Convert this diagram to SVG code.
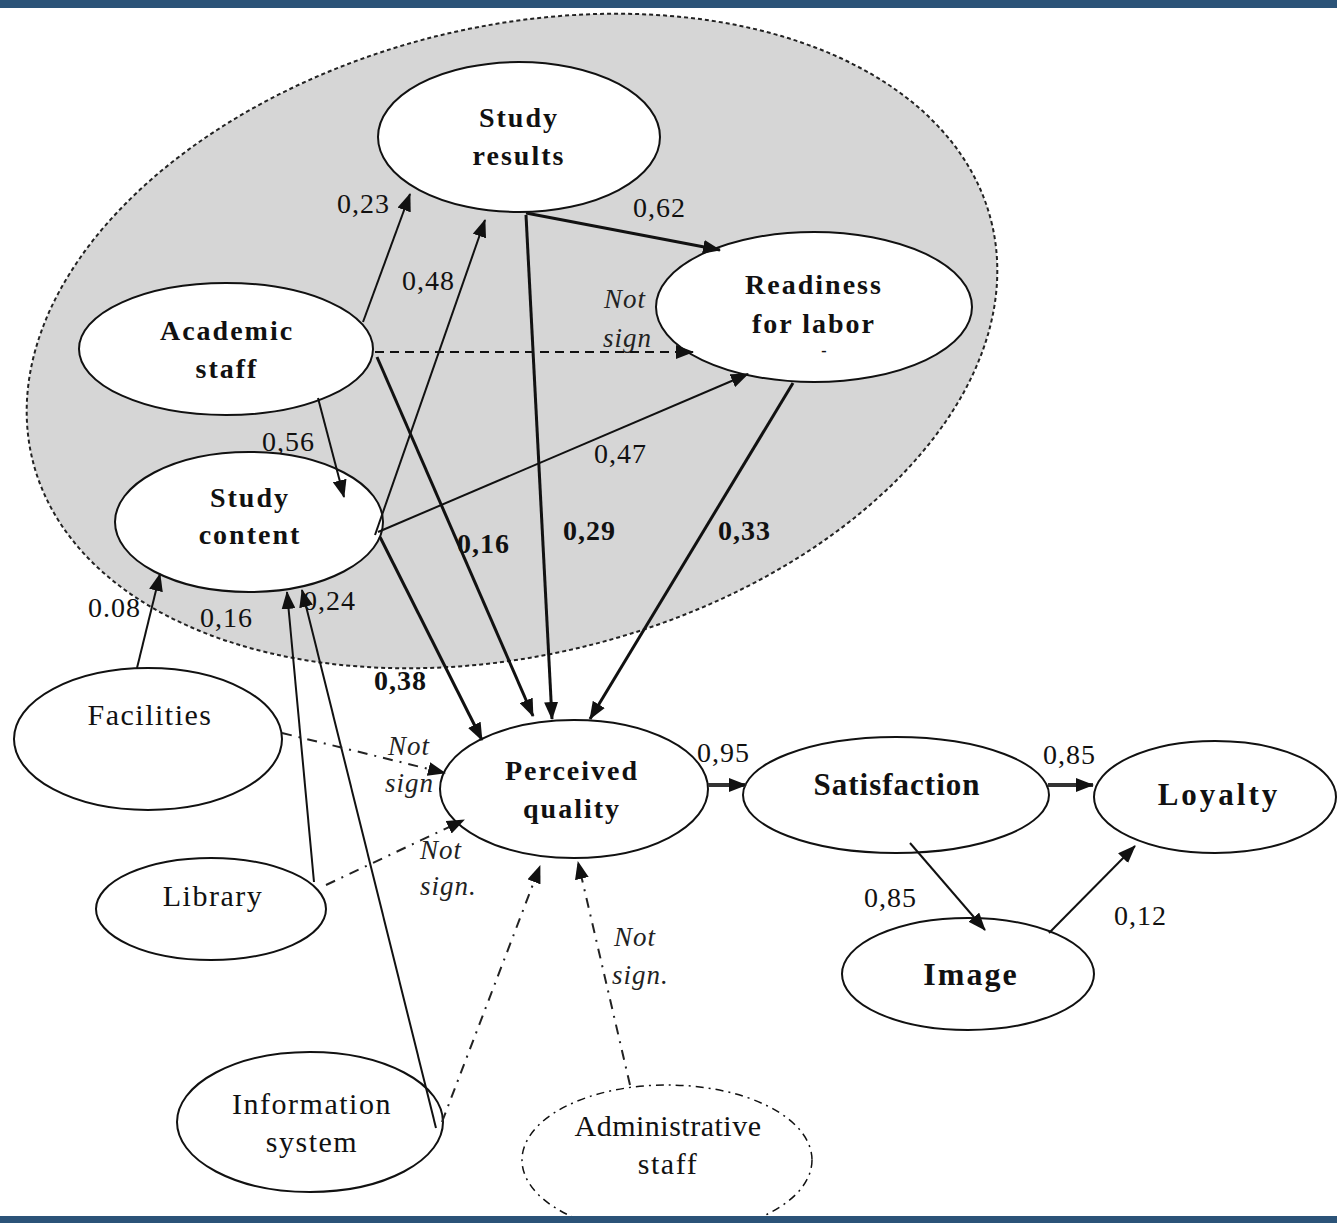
<svg xmlns="http://www.w3.org/2000/svg" width="1337" height="1223" viewBox="0 0 1337 1223">
<style>
.node{fill:#fff;stroke:#111;stroke-width:2}
.b{font-family:"Liberation Serif","Times New Roman",serif;font-weight:bold;font-size:28px;letter-spacing:2px;fill:#111;text-anchor:middle}
.r{font-family:"Liberation Serif","Times New Roman",serif;font-size:30px;letter-spacing:1.5px;fill:#111;text-anchor:middle}
.n{font-family:"Liberation Serif","Times New Roman",serif;font-size:28px;letter-spacing:1px;fill:#111}
.nb{font-family:"Liberation Serif","Times New Roman",serif;font-size:28px;font-weight:bold;letter-spacing:1px;fill:#111}
.ns{font-family:"Liberation Serif","Times New Roman",serif;font-size:27px;font-style:italic;letter-spacing:1px;fill:#222}
.e{stroke:#111;stroke-width:2;fill:none;marker-end:url(#ah)}
.t{stroke:#111;stroke-width:3;fill:none;marker-end:url(#ah)}
.d{stroke:#111;stroke-width:2;fill:none;stroke-dasharray:9 6;marker-end:url(#ah)}
.dd{stroke:#222;stroke-width:2;fill:none;stroke-dasharray:10 7 2 7;marker-end:url(#ah)}
</style>
<defs>
<marker id="ah" markerUnits="userSpaceOnUse" markerWidth="18" markerHeight="14" refX="17" refY="7" orient="auto">
<path d="M0,0 L18,7 L0,14 z" fill="#111"/>
</marker>
</defs>
<rect x="0" y="0" width="1337" height="1223" fill="#fff"/>
<ellipse cx="512" cy="341" rx="494" ry="314" transform="rotate(-14 512 341)" fill="#d6d6d6" stroke="#222" stroke-width="2" stroke-dasharray="4 3"/>

<g id="edge-labels">
<text class="n" x="337" y="213">0,23</text>
<text class="n" x="402" y="290">0,48</text>
<text class="n" x="633" y="217">0,62</text>
<text class="n" x="262" y="451">0,56</text>
<text class="n" x="594" y="463">0,47</text>
<text class="nb" x="457" y="553">0,16</text>
<text class="nb" x="563" y="540">0,29</text>
<text class="nb" x="718" y="540">0,33</text>
<text class="nb" x="374" y="690">0,38</text>
<text class="n" x="88" y="617">0.08</text>
<text class="n" x="200" y="627">0,16</text>
<text class="n" x="303" y="610">0,24</text>
<text class="n" x="697" y="762">0,95</text>
<text class="n" x="1043" y="764">0,85</text>
<text class="n" x="864" y="907">0,85</text>
<text class="n" x="1114" y="925">0,12</text>
<text class="ns" x="604" y="308">Not</text>
<text class="ns" x="603" y="347">sign</text>
<text class="ns" x="388" y="755">Not</text>
<text class="ns" x="385" y="792">sign</text>
<text class="ns" x="420" y="859">Not</text>
<text class="ns" x="420" y="895">sign.</text>
<text class="ns" x="614" y="946">Not</text>
<text class="ns" x="612" y="984">sign.</text>
</g>

<g id="node-study-results">
<ellipse class="node" cx="519" cy="137" rx="141" ry="75"/>
<text class="b" x="519" y="127">Study</text>
<text class="b" x="519" y="165">results</text>
</g>
<g id="node-readiness">
<ellipse class="node" cx="814" cy="307" rx="158" ry="75"/>
<text class="b" x="814" y="294">Readiness</text>
<text class="b" x="814" y="333">for labor</text>
<text class="b" x="825" y="356" style="font-size:16px">-</text>
</g>
<g id="node-academic-staff">
<ellipse class="node" cx="226" cy="349" rx="147" ry="66"/>
<text class="b" x="227" y="340">Academic</text>
<text class="b" x="227" y="378">staff</text>
</g>
<g id="node-study-content">
<ellipse class="node" cx="249" cy="522" rx="134" ry="70"/>
<text class="b" x="250" y="507">Study</text>
<text class="b" x="250" y="544">content</text>
</g>
<g id="node-facilities">
<ellipse class="node" cx="148" cy="739" rx="134" ry="71"/>
<text class="r" x="150" y="725">Facilities</text>
</g>
<g id="node-library">
<ellipse class="node" cx="211" cy="909" rx="115" ry="51"/>
<text class="r" x="213" y="906">Library</text>
</g>
<g id="node-information-system">
<ellipse class="node" cx="310" cy="1122" rx="133" ry="70"/>
<text class="r" x="312" y="1114">Information</text>
<text class="r" x="312" y="1152">system</text>
</g>
<g id="node-administrative-staff">
<ellipse class="node" cx="667" cy="1160" rx="145" ry="75" stroke-dasharray="8 5 2 5" style="stroke-width:1.5"/>
<text class="r" x="668" y="1136" style="letter-spacing:0.5px">Administrative</text>
<text class="r" x="668" y="1174">staff</text>
</g>
<g id="node-perceived-quality">
<ellipse class="node" cx="574" cy="789" rx="134" ry="69"/>
<text class="b" x="572" y="780">Perceived</text>
<text class="b" x="572" y="818">quality</text>
</g>
<g id="node-satisfaction">
<ellipse class="node" cx="896" cy="795" rx="153" ry="58"/>
<text class="b" x="897" y="795" style="font-size:31px;letter-spacing:1px">Satisfaction</text>
</g>
<g id="node-loyalty">
<ellipse class="node" cx="1215" cy="797" rx="121" ry="56"/>
<text class="b" x="1219" y="805" style="font-size:31px;letter-spacing:3px">Loyalty</text>
</g>
<g id="node-image">
<ellipse class="node" cx="968" cy="974" rx="126" ry="56"/>
<text class="b" x="971" y="985" style="font-size:32px;letter-spacing:2px">Image</text>
</g>

<g id="connectors">
<path class="e" d="M363,322 L410,194"/>
<path class="e" d="M375,535 L485,220"/>
<path class="t" d="M526,213 L720,250"/>
<path class="d" d="M375,352 L693,352"/>
<path class="e" d="M318,398 L344,497"/>
<path class="e" d="M378,532 L748,374"/>
<path class="t" d="M377,357 L533,716"/>
<path class="t" d="M526,215 L552,719"/>
<path class="t" d="M793,383 L590,719"/>
<path class="t" d="M380,537 L482,740"/>
<path class="e" d="M137,668 L160,574"/>
<path class="e" d="M314,882 L287,592"/>
<path class="e" d="M436,1128 L302,590"/>
<path class="dd" d="M282,733 L445,773"/>
<path class="dd" d="M326,885 L464,820"/>
<path class="dd" d="M442,1122 L540,866"/>
<path class="dd" d="M630,1085 L578,862"/>
<path d="M708,785 L746,785" stroke="#333" stroke-width="4" fill="none" marker-end="url(#ah)"/>
<path d="M1048,785 L1093,785" stroke="#333" stroke-width="4" fill="none" marker-end="url(#ah)"/>
<path class="e" d="M910,843 L985,930"/>
<path class="e" d="M1049,933 L1135,846"/>
</g>

<rect x="0" y="0" width="1337" height="8" fill="#2b5378"/>
<rect x="0" y="1216" width="1337" height="7" fill="#2b5378"/>
</svg>
